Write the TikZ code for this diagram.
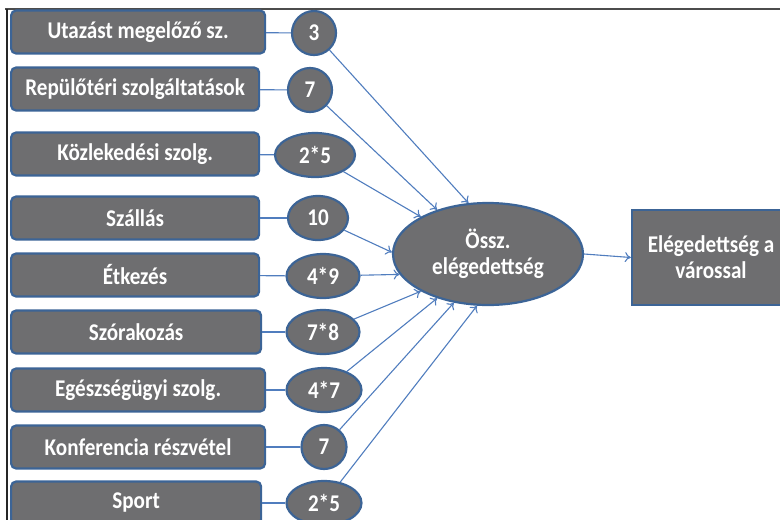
\documentclass[tikz,border=0pt]{standalone}
\usepackage{fontspec}
\usepackage{tikz}
\usetikzlibrary{shapes.geometric,arrows.meta,positioning,calc}
\newfontfamily\lblfont{Carlito}[FakeStretch=0.88]

\definecolor{boxgray}{RGB}{110,110,112}
\definecolor{boxblue}{RGB}{60,100,150}
\definecolor{linkblue}{RGB}{80,125,190}

\tikzset{
    factor/.style={draw=boxblue,line width=2.2pt,fill=boxgray,rounded corners=5pt,
        minimum height=43pt,inner sep=0pt,anchor=west,text=white,
        font=\lblfont\bfseries\fontsize{24}{26}\selectfont},
    weight/.style={ellipse,draw=boxblue,line width=2.2pt,fill=boxgray,
        minimum height=44pt,inner sep=0pt,text=white,
        font=\lblfont\bfseries\fontsize{24}{26}\selectfont},
    link/.style={linkblue,line width=1.1pt},
    arr/.style={link,-{To[length=6pt,width=10pt]}}
}

\begin{document}
\begin{tikzpicture}[x=1pt,y=-1pt]
    \useasboundingbox (0,0) rectangle (780,520);

    % Frame
    \draw[black!70,line width=2pt] (5,9) -- (780,9);
    \draw[black!85,line width=1.8pt] (7,9) -- (7,520);

    % Factors
    \node[factor,minimum width=254pt] (f1) at (10,32) {Utazást megelőző sz.};
    \node[factor,minimum width=248pt] (f2) at (10,89) {Repülőtéri szolgáltatások};
    \node[factor,minimum width=248pt] (f3) at (10,154) {Közlekedési szolg.};
    \node[factor,minimum width=248pt] (f4) at (10,218) {Szállás};
    \node[factor,minimum width=248pt] (f5) at (10,275) {Étkezés};
    \node[factor,minimum width=250pt] (f6) at (10,332) {Szórakozás};
    \node[factor,minimum width=254pt] (f7) at (10,390) {Egészségügyi szolg.};
    \node[factor,minimum width=254pt] (f8) at (10,447) {Konferencia részvétel};
    \node[factor,minimum width=250pt] (f9) at (10,503) {Sport};

    % Weights
    \node[weight,minimum width=44pt] (w1) at (314,33) {3};
    \node[weight,minimum width=44pt] (w2) at (310,90) {7};
    \node[weight,minimum width=80pt] (w3) at (315,155) {2*5};
    \node[weight,minimum width=60pt] (w4) at (318,218) {10};
    \node[weight,minimum width=73pt] (w5) at (323,276) {4*9};
    \node[weight,minimum width=73pt] (w6) at (323,332) {7*8};
    \node[weight,minimum width=75pt] (w7) at (324,390) {4*7};
    \node[weight,minimum width=45pt] (w8) at (324,447) {7};
    \node[weight,minimum width=75pt] (w9) at (324,503) {2*5};

    % Overall satisfaction and result
    \node[weight,minimum width=190pt,minimum height=102pt,align=center] (oss) at (488,254)
        {Össz.\\elégedettség};
    \node[factor,anchor=center,rounded corners=0pt,minimum width=158pt,minimum height=95pt,
        align=center] (city) at (711,257.5) {Elégedettség a\\várossal};

    % Links
    \foreach \i in {1,...,9}
        \draw[link] (f\i) -- (w\i);
    \draw[arr] (w1) -- (oss.111);
    \draw[arr] (w2) -- (oss.139);
    \draw[arr] (w3) -- (oss.151);
    \draw[arr] (w4) -- (oss.179);
    \draw[arr] (w5) -- (oss.193);
    \draw[arr] (w6) -- (oss.209);
    \draw[arr] (w7) -- (oss.221);
    \draw[arr] (w8) -- (oss.235);
    \draw[arr] (w9) -- (oss.258);
    \draw[arr] (oss.east) -- (city.west);
\end{tikzpicture}
\end{document}
